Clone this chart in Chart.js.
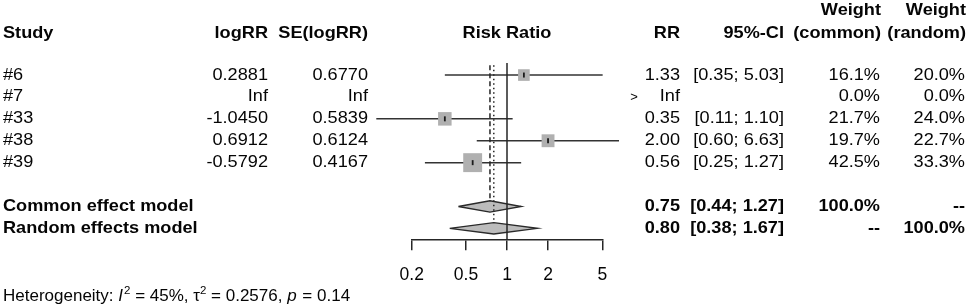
<!DOCTYPE html>
<html><head><meta charset="utf-8">
<script src="https://cdn.jsdelivr.net/npm/chart.js@4/dist/chart.umd.min.js"></script>
<style>html,body{margin:0;padding:0;background:#fff;overflow:hidden}</style>
</head><body>
<canvas id="c" width="972" height="308" style="width:972px;height:308px;display:block"></canvas>
<script>
// ---- data ----
const studies = ['#6', '#7', '#33', '#38', '#39'];
const logRRText = ['0.2881', 'Inf', '-1.0450', '0.6912', '-0.5792'];
const seLogRRText = ['0.6770', 'Inf', '0.5839', '0.6124', '0.4167'];
const rr = [1.33, Infinity, 0.35, 2.00, 0.56];
const rrText = ['1.33', 'Inf', '0.35', '2.00', '0.56'];
const ciLower = [0.35, null, 0.11, 0.60, 0.25];
const ciUpper = [5.03, null, 1.10, 6.63, 1.27];
const ciText = ['[0.35; 5.03]', '', '[0.11; 1.10]', '[0.60; 6.63]', '[0.25; 1.27]'];
const weightCommon = [16.1, 0.0, 21.7, 19.7, 42.5];
const weightRandom = [20.0, 0.0, 24.0, 22.7, 33.3];
const models = ['Common effect model', 'Random effects model'];
const modelRR = [0.75, 0.80];
const modelLower = [0.44, 0.38];
const modelUpper = [1.27, 1.67];
const modelRRText = ['0.75', '0.80'];
const modelCIText = ['[0.44; 1.27]', '[0.38; 1.67]'];
const modelWeightCommon = ['100.0%', '--'];
const modelWeightRandom = ['--', '100.0%'];
const xTicks = [0.2, 0.5, 1, 2, 5];
const hetI2 = '45%', hetTau2 = '0.2576', hetP = '0.14';

// ---- layout rows ----
const studyRows = studies.map((s, i) => i);
const modelRows = [6, 7];
const headerRow = -1.92, weightRow = -2.97, hetRow = 10.12;

const LINE = '#262626';
const TEXT = '#050505';
const FONT = '"Liberation Sans", Arial, Helvetica, sans-serif';

const datasets = [];
// reference line at RR = 1
datasets.push({ data: [{x: 1, y: -0.55}, {x: 1, y: 7.5}], showLine: true, borderColor: LINE, borderWidth: 1.5, pointRadius: 0, order: 2, clip: false });
// common effect (dashed) and random effects (dotted)
datasets.push({ data: [{x: modelRR[0], y: -0.45}, {x: modelRR[0], y: modelRows[0] - 0.25}], showLine: true, borderColor: LINE, borderWidth: 1.5, borderDash: [5, 3], pointRadius: 0, order: 2, clip: false });
datasets.push({ data: [{x: modelRR[1], y: -0.45}, {x: modelRR[1], y: modelRows[1] - 0.25}], showLine: true, borderColor: LINE, borderWidth: 1.5, borderDash: [1.5, 3], pointRadius: 0, order: 2, clip: false });
// CI lines
studies.forEach((s, i) => {
  if (ciLower[i] == null) return;
  datasets.push({ data: [{x: ciLower[i], y: studyRows[i]}, {x: ciUpper[i], y: studyRows[i]}], showLine: true, borderColor: '#333', borderWidth: 1.5, pointRadius: 0, order: 4, clip: false });
});
// squares (area ~ common weight)
const sqIdx = studies.map((s, i) => i).filter(i => isFinite(rr[i]) && weightCommon[i] > 0);
datasets.push({
  data: sqIdx.map(i => ({x: rr[i], y: studyRows[i]})),
  showLine: false, pointStyle: 'rect', backgroundColor: '#b0b0b0', borderWidth: 0,
  pointRadius: sqIdx.map(i => 2.9 * Math.sqrt(weightCommon[i]) / Math.SQRT2), order: 1, clip: false
});
// point-estimate tick marks
datasets.push({
  data: sqIdx.map(i => ({x: rr[i], y: studyRows[i]})),
  showLine: false, pointStyle: 'line', rotation: 90, pointRadius: 2.5, borderColor: '#1a1a1a', borderWidth: 1.8, order: 0, clip: false
});
// diamonds
models.forEach((m, k) => {
  const r = modelRows[k];
  datasets.push({
    data: [{x: modelLower[k], y: r}, {x: modelRR[k], y: r - 0.26}, {x: modelUpper[k], y: r}, {x: modelRR[k], y: r + 0.26}, {x: modelLower[k], y: r}],
    showLine: true, fill: 'shape', backgroundColor: '#bcbcbc', borderColor: '#2a2a2a', borderWidth: 1.4, pointRadius: 0, tension: 0, order: 3, clip: false
  });
});

function txt(ctx, s, x, y, align, bold, size, sx) {
  ctx.save();
  ctx.font = (bold ? 'bold ' : '') + size + 'px ' + FONT;
  ctx.fillStyle = TEXT;
  ctx.textBaseline = 'middle';
  ctx.textAlign = align;
  ctx.translate(x, y);
  ctx.scale(sx || 1, 1);
  ctx.fillText(s, 0, 0);
  ctx.restore();
}

const tablePlugin = {
  id: 'table',
  afterDraw(chart) {
    const ctx = chart.ctx, ys = chart.scales.y;
    const FS = 16.5, SX = 1.1;
    const yh = ys.getPixelForValue(headerRow), yw = ys.getPixelForValue(weightRow);
    // headers
    txt(ctx, 'Study', 3, yh, 'left', true, FS, SX);
    txt(ctx, 'logRR', 268, yh, 'right', true, FS, SX);
    txt(ctx, 'SE(logRR)', 368, yh, 'right', true, FS, SX);
    txt(ctx, 'Risk Ratio', 507, yh, 'center', true, FS, SX);
    txt(ctx, 'RR', 680, yh, 'right', true, FS, SX);
    txt(ctx, '95%-CI', 784, yh, 'right', true, FS, SX);
    txt(ctx, 'Weight', 881, yw, 'right', true, FS, SX);
    txt(ctx, '(common)', 881, yh, 'right', true, FS, SX);
    txt(ctx, 'Weight', 966, yw, 'right', true, FS, SX);
    txt(ctx, '(random)', 966, yh, 'right', true, FS, SX);
    // study rows
    studies.forEach((s, i) => {
      const y = ys.getPixelForValue(studyRows[i]);
      txt(ctx, s, 3, y, 'left', false, FS, SX);
      txt(ctx, logRRText[i], 268, y, 'right', false, FS, SX);
      txt(ctx, seLogRRText[i], 368, y, 'right', false, FS, SX);
      txt(ctx, rrText[i], 680, y, 'right', false, FS, SX);
      txt(ctx, ciText[i], 784, y, 'right', false, FS, SX);
      txt(ctx, weightCommon[i].toFixed(1) + '%', 880, y, 'right', false, FS, SX);
      txt(ctx, weightRandom[i].toFixed(1) + '%', 965, y, 'right', false, FS, SX);
      if (!isFinite(rr[i])) txt(ctx, '>', 634, y, 'center', false, 13, 1);
    });
    // model rows
    models.forEach((m, k) => {
      const y = ys.getPixelForValue(modelRows[k]);
      txt(ctx, m, 3, y, 'left', true, FS, SX);
      txt(ctx, modelRRText[k], 680, y, 'right', true, FS, SX);
      txt(ctx, modelCIText[k], 784, y, 'right', true, FS, SX);
      txt(ctx, modelWeightCommon[k], 880, y, 'right', true, FS, SX);
      txt(ctx, modelWeightRandom[k], 965, y, 'right', true, FS, SX);
    });
    // heterogeneity
    const yH = ys.getPixelForValue(hetRow);
    const segs = [
      ['Heterogeneity: ', '', 17, 0], ['I', 'italic ', 17, 0], ['2', '', 11.5, -6], [' = ' + hetI2 + ', ', '', 17, 0],
      ['\u03c4', '', 17, 0], ['2', '', 11.5, -6], [' = ' + hetTau2 + ', ', '', 17, 0],
      ['p', 'italic ', 17, 0], [' = ' + hetP, '', 17, 0]
    ];
    let x = 3;
    ctx.save();
    ctx.fillStyle = TEXT; ctx.textBaseline = 'middle'; ctx.textAlign = 'left';
    segs.forEach(([s, st, sz, dy]) => {
      ctx.font = st + sz + 'px ' + FONT;
      ctx.fillText(s, x, yH + dy);
      x += ctx.measureText(s).width + (st ? 1 : 0);
    });
    ctx.restore();
  }
};

new Chart(document.getElementById('c'), {
  type: 'scatter',
  data: { datasets },
  options: {
    responsive: false, animation: false, devicePixelRatio: 1,
    layout: { padding: { left: 411.7, right: 369.7, top: 63, bottom: 0 } },
    plugins: { legend: { display: false }, tooltip: { enabled: false } },
    elements: { line: { tension: 0 } },
    scales: {
      x: {
        type: 'logarithmic', min: 0.2, max: 5, position: 'bottom',
        afterBuildTicks: (scale) => { scale.ticks = xTicks.map(v => ({ value: v })); },
        afterFit: (scale) => { scale.height = 308 - 239.3; },
        ticks: { callback: (v) => String(v), font: { family: FONT, size: 17.5 }, color: TEXT, padding: 14, maxRotation: 0, autoSkip: false },
        grid: { display: true, drawOnChartArea: false, drawTicks: true, tickLength: 11, color: LINE, lineWidth: 1.5 },
        border: { display: true, color: LINE, width: 1.5 }
      },
      y: { type: 'linear', reverse: true, min: -0.55, max: 7.5, display: false }
    }
  },
  plugins: [tablePlugin]
});
</script>
</body></html>
